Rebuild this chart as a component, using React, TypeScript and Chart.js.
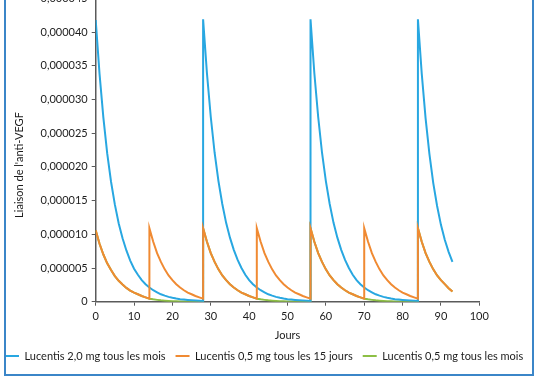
import React, { useEffect, useRef } from 'react';
import { Chart, registerables } from 'chart.js';

Chart.register(...registerables);

// ---- Data (binding values in millionths, i.e. 1 = 0,000001) ----
const blueDays = [
  0, 1, 2, 3, 4, 5, 6, 7, 8, 9, 10, 11, 12, 13, 14, 15, 16, 17, 18, 19, 20, 21, 22, 23, 24, 25, 26, 27, 28,
  28, 29, 30, 31, 32, 33, 34, 35, 36, 37, 38, 39, 40, 41, 42, 43, 44, 45, 46, 47, 48, 49, 50, 51, 52, 53, 54, 55, 56,
  56, 57, 58, 59, 60, 61, 62, 63, 64, 65, 66, 67, 68, 69, 70, 71, 72, 73, 74, 75, 76, 77, 78, 79, 80, 81, 82, 83, 84,
  84, 85, 86, 87, 88, 89, 90, 91, 92, 93,
];
const blueValues = [
  41.8, 33.8, 27.3, 22.0, 17.8, 14.4, 11.6, 9.4, 7.6, 6.1, 4.9, 4.0, 3.2, 2.6, 2.1, 1.7, 1.4, 1.1, 0.9, 0.72, 0.58, 0.47, 0.38, 0.31, 0.25, 0.2, 0.16, 0.13, 0.1,
  41.9, 33.9, 27.4, 22.1, 17.9, 14.5, 11.7, 9.5, 7.7, 6.2, 5.0, 4.0, 3.2, 2.6, 2.1, 1.7, 1.4, 1.1, 0.9, 0.72, 0.58, 0.47, 0.38, 0.31, 0.25, 0.2, 0.16, 0.13, 0.1,
  41.9, 33.9, 27.4, 22.1, 17.9, 14.5, 11.7, 9.5, 7.7, 6.2, 5.0, 4.0, 3.2, 2.6, 2.1, 1.7, 1.4, 1.1, 0.9, 0.72, 0.58, 0.47, 0.38, 0.31, 0.25, 0.2, 0.16, 0.13, 0.1,
  41.9, 33.8, 27.2, 21.9, 17.6, 14.2, 11.4, 9.2, 7.4, 5.9,
];

const orangeDays = [
  0, 1, 2, 3, 4, 5, 6, 7, 8, 9, 10, 11, 12, 13, 14,
  14, 15, 16, 17, 18, 19, 20, 21, 22, 23, 24, 25, 26, 27, 28,
  28, 29, 30, 31, 32, 33, 34, 35, 36, 37, 38, 39, 40, 41, 42,
  42, 43, 44, 45, 46, 47, 48, 49, 50, 51, 52, 53, 54, 55, 56,
  56, 57, 58, 59, 60, 61, 62, 63, 64, 65, 66, 67, 68, 69, 70,
  70, 71, 72, 73, 74, 75, 76, 77, 78, 79, 80, 81, 82, 83, 84,
  84, 85, 86, 87, 88, 89, 90, 91, 92, 93,
];
const orangeValues = [
  10.6, 8.6, 7.0, 5.7, 4.7, 3.8, 3.1, 2.55, 2.05, 1.65, 1.35, 1.1, 0.85, 0.65, 0.45,
  10.9, 8.9, 7.2, 5.9, 4.8, 3.9, 3.2, 2.6, 2.1, 1.7, 1.35, 1.1, 0.85, 0.65, 0.45,
  10.9, 8.9, 7.2, 5.9, 4.8, 3.9, 3.2, 2.6, 2.1, 1.7, 1.35, 1.1, 0.85, 0.65, 0.45,
  10.9, 8.9, 7.2, 5.9, 4.8, 3.9, 3.2, 2.6, 2.1, 1.7, 1.35, 1.1, 0.85, 0.65, 0.45,
  10.9, 8.9, 7.2, 5.9, 4.8, 3.9, 3.2, 2.6, 2.1, 1.7, 1.35, 1.1, 0.85, 0.65, 0.45,
  10.9, 8.9, 7.2, 5.9, 4.8, 3.9, 3.2, 2.6, 2.1, 1.7, 1.35, 1.1, 0.85, 0.65, 0.45,
  10.9, 8.9, 7.2, 5.9, 4.8, 3.9, 3.2, 2.6, 2.0, 1.5,
];

const greenDays = [
  0, 1, 2, 3, 4, 5, 6, 7, 8, 9, 10, 11, 12, 13, 14, 15, 16, 17, 18, 19, 20, 21, 22, 23, 24, 25, 26, 27, 28,
  28, 29, 30, 31, 32, 33, 34, 35, 36, 37, 38, 39, 40, 41, 42, 43, 44, 45, 46, 47, 48, 49, 50, 51, 52, 53, 54, 55, 56,
  56, 57, 58, 59, 60, 61, 62, 63, 64, 65, 66, 67, 68, 69, 70, 71, 72, 73, 74, 75, 76, 77, 78, 79, 80, 81, 82, 83, 84,
  84, 85, 86, 87, 88, 89, 90, 91, 92, 93,
];
const greenValues = [
  10.6, 8.6, 7.0, 5.7, 4.7, 3.8, 3.1, 2.55, 2.05, 1.65, 1.35, 1.1, 0.85, 0.65, 0.45, 0.35, 0.27, 0.2, 0.15, 0.11, 0.08, 0.06, 0.045, 0.035, 0.025, 0.02, 0.015, 0.01, 0.008,
  10.9, 8.9, 7.2, 5.9, 4.8, 3.9, 3.2, 2.6, 2.1, 1.7, 1.35, 1.1, 0.85, 0.65, 0.45, 0.35, 0.27, 0.2, 0.15, 0.11, 0.08, 0.06, 0.045, 0.035, 0.025, 0.02, 0.015, 0.01, 0.008,
  10.9, 8.9, 7.2, 5.9, 4.8, 3.9, 3.2, 2.6, 2.1, 1.7, 1.35, 1.1, 0.85, 0.65, 0.45, 0.35, 0.27, 0.2, 0.15, 0.11, 0.08, 0.06, 0.045, 0.035, 0.025, 0.02, 0.015, 0.01, 0.008,
  10.9, 8.9, 7.2, 5.9, 4.8, 3.9, 3.2, 2.6, 2.0, 1.5,
];

const seriesLabels = [
  'Lucentis 2,0 mg tous les mois',
  'Lucentis 0,5 mg tous les 15 jours',
  'Lucentis 0,5 mg tous les mois',
];
const yTickLabels = [
  '0', '0,000005', '0,000010', '0,000015', '0,000020',
  '0,000025', '0,000030', '0,000035', '0,000040', '0,000045',
];
const xTitle = 'Jours';
const yTitle = "Liaison de l'anti-VEGF";

const BLUE = '#28a7e1';
const ORANGE = '#f08a32';
const GREEN = '#8dbf45';
const AXIS = '#5a5a5a';
const TEXT = '#1c1c1c';
const FONT = 'Lato';

const toPoints = (xs: number[], ys: number[]) => xs.map((x, i) => ({ x, y: ys[i] }));

const yTitlePlugin = {
  id: 'yTitlePlugin',
  afterDraw(chart: any) {
    const { ctx } = chart;
    ctx.save();
    ctx.translate(19, 185);
    ctx.rotate(-Math.PI / 2);
    ctx.font = `11px ${FONT}`;
    ctx.fillStyle = TEXT;
    ctx.textAlign = 'center';
    ctx.textBaseline = 'middle';
    ctx.fillText(yTitle, 0, 0);
    ctx.restore();
  },
};

export default function App() {
  const canvasRef = useRef<HTMLCanvasElement | null>(null);

  useEffect(() => {
    if (!canvasRef.current) return;
    const common = { borderWidth: 2, pointRadius: 0, tension: 0, fill: false };
    const chart = new Chart(canvasRef.current, {
      type: 'line',
      data: {
        datasets: [
          { ...common, label: seriesLabels[0], data: toPoints(blueDays, blueValues), borderColor: BLUE, backgroundColor: BLUE, order: 1 },
          { ...common, label: seriesLabels[1], data: toPoints(orangeDays, orangeValues), borderColor: ORANGE, backgroundColor: ORANGE, order: 0 },
          { ...common, label: seriesLabels[2], data: toPoints(greenDays, greenValues), borderColor: GREEN, backgroundColor: GREEN, order: 2 },
        ],
      },
      options: {
        animation: false,
        responsive: false,
        maintainAspectRatio: false,
        layout: { padding: { top: 18.4, left: -5, right: 0, bottom: 12.5 } },
        plugins: {
          tooltip: { enabled: false },
          legend: {
            position: 'bottom',
            align: 'start',
            labels: {
              usePointStyle: true,
              pointStyle: 'line',
              pointStyleWidth: 14,
              padding: 10,
              color: TEXT,
              font: { family: FONT, size: 11 },
              sort: (a: any, b: any) => a.datasetIndex - b.datasetIndex,
            },
          },
        },
        scales: {
          x: {
            type: 'linear',
            min: 0,
            max: 100,
            ticks: { stepSize: 10, color: TEXT, padding: 4, font: { family: FONT, size: 11 }, maxRotation: 0 },
            grid: { drawOnChartArea: false, drawTicks: true, tickLength: 4, color: AXIS, lineWidth: 1 },
            border: { display: true, color: AXIS, width: 1.5 },
            title: { display: true, text: xTitle, color: TEXT, font: { family: FONT, size: 11 }, padding: { top: 0, bottom: -1.1 } },
            afterFit: (s: any) => { s.height = 38.8; },
          },
          y: {
            type: 'linear',
            min: 0,
            max: 45,
            ticks: {
              stepSize: 5,
              color: TEXT,
              padding: 4,
              font: { family: FONT, size: 11 },
              callback: (_v: any, i: number) => yTickLabels[i],
            },
            grid: { drawOnChartArea: false, drawTicks: true, tickLength: 4, color: AXIS, lineWidth: 1 },
            border: { display: true, color: AXIS, width: 1.5 },
            afterFit: (s: any) => { s.width = 100.7; },
          },
          y2: {
            type: 'linear',
            position: 'right',
            display: true,
            ticks: { display: false },
            grid: { display: false },
            border: { display: false },
            afterFit: (s: any) => { s.width = 58.7; },
          },
        },
      } as any,
      plugins: [yTitlePlugin],
    });
    return () => chart.destroy();
  }, []);

  return (
    <div style={{ position: 'fixed', left: 0, top: 0, width: 538, height: 384, overflow: 'hidden', background: '#fff' }}>
      <canvas
        ref={canvasRef}
        width={538}
        height={404}
        style={{ position: 'absolute', left: 0, top: -20, width: 538, height: 404 }}
      />
      <div
        style={{
          position: 'absolute',
          left: 4,
          top: -20,
          width: 530,
          height: 396,
          border: '2px solid #3b86c8',
          boxSizing: 'border-box',
          pointerEvents: 'none',
        }}
      />
    </div>
  );
}
